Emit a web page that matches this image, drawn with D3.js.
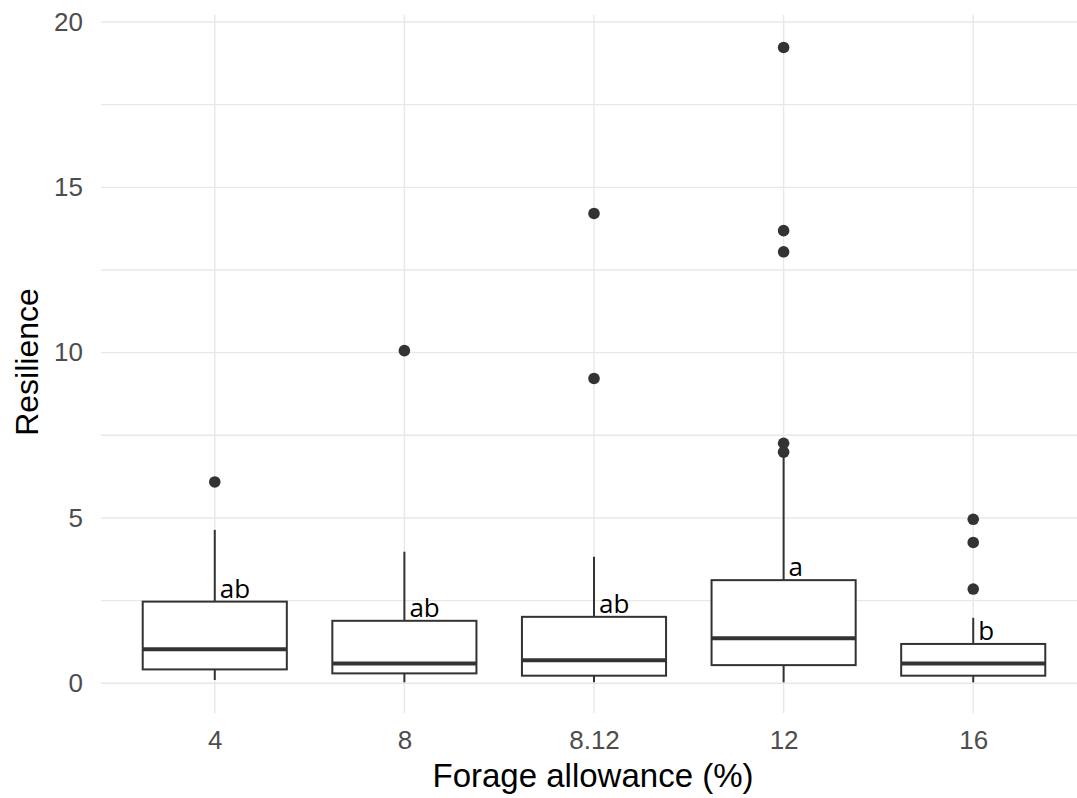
<!DOCTYPE html>
<html lang="en">
<head>
<meta charset="UTF-8">
<script src="https://d3js.org/d3.v7.min.js"></script>
<style>
  body { margin: 0; background: #fff; }
  #plot { position: absolute; width: 100%; height: 100%; }
</style>
</head>
<body>
<div id="plot"></div>
<script>
// values
const groups       = ["4", "8", "8.12", "12", "16"];
const whiskerLow   = [0.10, 0.03, 0.03, 0.03, 0.03];
const q1           = [0.42, 0.30, 0.23, 0.55, 0.23];
const medians      = [1.03, 0.60, 0.70, 1.36, 0.60];
const q3           = [2.47, 1.89, 2.01, 3.12, 1.19];
const whiskerHigh  = [4.64, 3.98, 3.83, 6.85, 1.98];
const outliers     = [[6.09], [10.06], [14.21, 9.22], [19.23, 13.69, 13.05, 7.26, 6.99], [4.96, 4.26, 2.85]];
const letters      = ["ab", "ab", "ab", "a", "b"];
const yTicks       = [0, 5, 10, 15, 20];
const yMinor       = [2.5, 7.5, 12.5, 17.5];

function draw() {
  const width = 1077, height = 798;
  const panel = {left: 101, right: 1087, top: 15, bottom: 713};

  const svg = d3.select("#plot").append("svg")
      .attr("width", width)
      .attr("height", height);

  // scales
  const x = d3.scalePoint()
      .domain(groups)
      .range([panel.left, panel.right])
      .padding(0.6);
  const y = d3.scaleLinear()
      .domain([0, 20])
      .range([683.3, 22]);
  const boxW = x.step() * 0.76;

  // grid
  const grid = svg.append("g").attr("stroke", "#e8e8e8").attr("stroke-width", 1.4);
  grid.selectAll(".minor").data(yMinor).join("line")
      .attr("x1", panel.left).attr("x2", width)
      .attr("y1", d => y(d)).attr("y2", d => y(d));
  grid.selectAll(".major").data(yTicks).join("line")
      .attr("x1", panel.left).attr("x2", width)
      .attr("y1", d => y(d)).attr("y2", d => y(d));
  grid.selectAll(".vert").data(groups).join("line")
      .attr("x1", d => x(d)).attr("x2", d => x(d))
      .attr("y1", panel.top).attr("y2", panel.bottom);

  // axes (labels only, ggplot minimal style)
  const yAxis = svg.append("g")
      .attr("transform", `translate(${panel.left - 8},0)`)
      .call(d3.axisLeft(y).tickValues(yTicks).tickSize(0).tickPadding(10));
  yAxis.select(".domain").remove();
  yAxis.selectAll("text")
      .attr("fill", "#4d4d4d")
      .style("font-family", "Liberation Sans, Arial, sans-serif")
      .style("font-size", "26px");

  const xAxis = svg.append("g")
      .attr("transform", `translate(0,${panel.bottom + 10})`)
      .call(d3.axisBottom(x).tickSize(0).tickPadding(8));
  xAxis.select(".domain").remove();
  xAxis.selectAll("text")
      .attr("fill", "#4d4d4d")
      .style("font-family", "Liberation Sans, Arial, sans-serif")
      .style("font-size", "26px");

  // boxes
  const boxes = svg.append("g")
    .selectAll("g")
    .data(groups)
    .join("g")
      .attr("stroke", "#333333")
      .attr("fill", "none");

  boxes.append("line")
      .attr("x1", d => x(d)).attr("x2", d => x(d))
      .attr("y1", (d, i) => y(q3[i])).attr("y2", (d, i) => y(whiskerHigh[i]))
      .attr("stroke-width", 2);
  boxes.append("line")
      .attr("x1", d => x(d)).attr("x2", d => x(d))
      .attr("y1", (d, i) => y(q1[i])).attr("y2", (d, i) => y(whiskerLow[i]))
      .attr("stroke-width", 2);
  boxes.append("rect")
      .attr("x", d => x(d) - boxW / 2)
      .attr("width", boxW)
      .attr("y", (d, i) => y(q3[i]))
      .attr("height", (d, i) => y(q1[i]) - y(q3[i]))
      .attr("fill", "#fff")
      .attr("stroke-width", 2);
  boxes.append("line")
      .attr("x1", d => x(d) - boxW / 2).attr("x2", d => x(d) + boxW / 2)
      .attr("y1", (d, i) => y(medians[i])).attr("y2", (d, i) => y(medians[i]))
      .attr("stroke-width", 4);

  // outliers
  const pts = groups.flatMap((g, i) => outliers[i].map(v => ({g, v})));
  svg.append("g").selectAll("circle")
    .data(pts)
    .join("circle")
      .attr("cx", d => x(d.g))
      .attr("cy", d => y(d.v))
      .attr("r", 5.8)
      .attr("fill", "#333333");

  // significance letters
  svg.append("g").selectAll("text")
    .data(groups)
    .join("text")
      .attr("x", d => x(d) + 5)
      .attr("y", (d, i) => y(q3[i]) - 4)
      .attr("fill", "#000")
      .style("font-family", "Open Sans, sans-serif")
      .style("font-size", "26px")
      .text((d, i) => letters[i]);

  // axis titles
  svg.append("text")
      .attr("x", 593)
      .attr("y", 787)
      .attr("text-anchor", "middle")
      .style("font-family", "Liberation Sans, Arial, sans-serif")
      .style("font-size", "33px")
      .text("Forage allowance (%)");

  svg.append("text")
      .attr("transform", "translate(38,362) rotate(-90)")
      .attr("text-anchor", "middle")
      .style("font-family", "Liberation Sans, Arial, sans-serif")
      .style("font-size", "32px")
      .text("Resilience");
}

draw();
</script>
</body>
</html>
